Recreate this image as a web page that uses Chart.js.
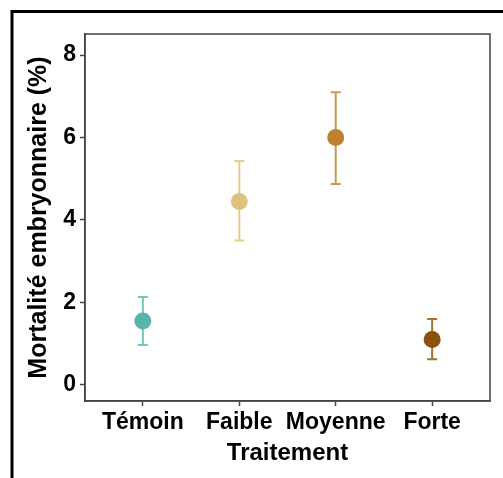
<!DOCTYPE html>
<html>
<head>
<meta charset="utf-8">
<script src="https://cdn.jsdelivr.net/npm/chart.js@4"></script>
<style>
  html, body { margin: 0; padding: 0; background: #fff; }
  #wrap { width: 503px; height: 478px; position: relative; }
</style>
</head>
<body>
<div id="wrap"><canvas id="chart" width="503" height="478"></canvas></div>
<script>
// data
const categories = ['Témoin', 'Faible', 'Moyenne', 'Forte'];
const means = [1.55, 4.45, 6.0, 1.1];
const lows = [0.97, 3.5, 4.87, 0.62];
const highs = [2.13, 5.43, 7.1, 1.6];
const colors = ['#5ab4ac', '#dfc27d', '#bf812d', '#8c510a'];
const yTicks = [0, 2, 4, 6, 8];

const FONT = "'Liberation Sans', Arial, sans-serif";

// outer frame + panel border + error bars
const extras = {
  id: 'extras',
  beforeDatasetsDraw(chart) {
    const { ctx, scales: { x, y } } = chart;
    ctx.save();
    ctx.lineWidth = 2;
    means.forEach((m, i) => {
      const px = x.getPixelForValue(i);
      const top = y.getPixelForValue(highs[i]);
      const bot = y.getPixelForValue(lows[i]);
      ctx.strokeStyle = colors[i] + 'd0';
      ctx.beginPath();
      ctx.moveTo(px, top); ctx.lineTo(px, bot);
      ctx.moveTo(px - 5, top); ctx.lineTo(px + 5, top);
      ctx.moveTo(px - 5, bot); ctx.lineTo(px + 5, bot);
      ctx.stroke();
    });
    ctx.restore();
  },
  afterDraw(chart) {
    const { ctx, chartArea: a } = chart;
    ctx.save();
    ctx.strokeStyle = '#444';
    ctx.lineWidth = 1.5;
    ctx.strokeRect(a.left, a.top, a.right - a.left, a.bottom - a.top);
    ctx.strokeStyle = '#000';
    ctx.lineWidth = 3;
    ctx.beginPath();
    ctx.moveTo(12, 478); ctx.lineTo(12, 11.5); ctx.lineTo(503, 11.5);
    ctx.stroke();
    ctx.restore();
  }
};

new Chart(document.getElementById('chart'), {
  type: 'scatter',
  data: {
    datasets: [{
      data: means.map((v, i) => ({ x: i, y: v })),
      pointRadius: 8.5,
      pointHoverRadius: 8.5,
      pointBackgroundColor: colors,
      pointBorderColor: colors,
      pointBorderWidth: 0
    }]
  },
  options: {
    responsive: false,
    animation: false,
    events: [],
    layout: { padding: { top: 34, right: 13, left: 0, bottom: 10 } },
    plugins: { legend: { display: false }, tooltip: { enabled: false } },
    scales: {
      x: {
        type: 'linear',
        min: -0.6,
        max: 3.6,
        afterBuildTicks: s => { s.ticks = categories.map((c, i) => ({ value: i })); },
        afterFit: s => { s.height = 67; },
        ticks: {
          callback: v => categories[v],
          color: '#000',
          font: { family: FONT, size: 23, weight: 'bold' },
          padding: 3,
          maxRotation: 0,
          autoSkip: false
        },
        grid: { drawOnChartArea: false, drawTicks: true, tickLength: 5, tickColor: '#444', tickWidth: 1.5 },
        border: { display: true, color: '#444', width: 1.5 },
        title: {
          display: true,
          text: 'Traitement',
          color: '#000',
          font: { family: FONT, size: 24, weight: 'bold' },
          padding: { top: 0, bottom: 0 }
        }
      },
      y: {
        min: -0.39,
        max: 8.51,
        afterBuildTicks: s => { s.ticks = yTicks.map(v => ({ value: v })); },
        afterFit: s => { s.width = 85; },
        ticks: {
          color: '#000',
          font: { family: FONT, size: 23, weight: 'bold' },
          padding: 4
        },
        grid: { drawOnChartArea: false, drawTicks: true, tickLength: 5, tickColor: '#444', tickWidth: 1.5 },
        border: { display: true, color: '#444', width: 1.5 },
        title: {
          display: true,
          text: 'Mortalité embryonnaire (%)',
          color: '#000',
          font: { family: FONT, size: 25, weight: 'bold' },
          padding: { top: 24, bottom: 0 }
        }
      }
    }
  },
  plugins: [extras]
});
</script>
</body>
</html>
